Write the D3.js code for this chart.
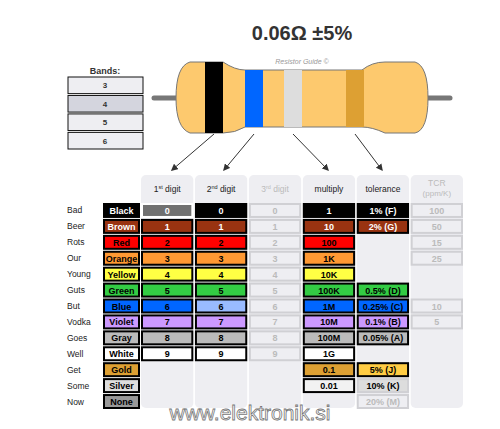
<!DOCTYPE html>
<html><head><meta charset="utf-8">
<script src="https://cdn.jsdelivr.net/npm/d3@7"></script>
<style>
body { margin: 0; background: #fff; }
text { font-family: "Liberation Sans", Arial, sans-serif; }
</style></head>
<body><svg id="chart" width="500" height="429"></svg>
<script>
// values
let names      = ['Black','Brown','Red','Orange','Yellow','Green','Blue','Violet','Gray','White','Gold','Silver','None'];
let mnemonics  = ['Bad','Beer','Rots','Our','Young','Guts','But','Vodka','Goes','Well','Get','Some','Now'];
let fills      = ['#000000','#993311','#ff0000','#ff9933','#ffff44','#33cc44','#0066ff','#cc99ff','#bbbbbb','#ffffff','#dda033','#dddddd','#999999'];
let digits     = ['0','1','2','3','4','5','6','7','8','9'];
let multipliers= ['1','10','100','1K','10K','100K','1M','10M','100M','1G','0.1','0.01'];
let tolerances = ['1% (F)','2% (G)','','','','0.5% (D)','0.25% (C)','0.1% (B)','0.05% (A)','','5% (J)','10% (K)','20% (M)'];
let tcrs       = ['100','50','15','25','','','10','5'];
let bandCounts = ['3','4','5','6'];
let columns    = ['1st','2nd','3rd','multiply','tolerance','TCR'];
let picked     = { '1st': 0, '2nd': 6, multiply: 11, tolerance: 10 };
let bandColors = ['#000000','#0066ff','#dddddd','#dda033'];

let svg = d3.select('#chart');
let lightText = (i) => i < 2;

let x = d3.scaleBand().domain(columns).range([141, 463]).paddingInner(0.03);
let nameX = 103, nameW = 37;
let y = d3.scaleBand().domain(d3.range(names.length)).range([203, 409]).paddingInner(0.06);

// title and resistor
svg.append('text').attr('x', 302).attr('y', 40).attr('text-anchor', 'middle')
    .attr('font-size', 20).attr('font-weight', 'bold').attr('fill', '#333').text('0.06Ω ±5%');
svg.append('text').attr('x', 302).attr('y', 64).attr('text-anchor', 'middle')
    .attr('font-size', 7).attr('font-style', 'italic').attr('fill', '#999').text('Resistor Guide ©');

svg.append('line').attr('x1', 154).attr('x2', 450).attr('y1', 98).attr('y2', 98)
    .attr('stroke', '#777').attr('stroke-width', 5).attr('stroke-linecap', 'round');
let body = 'M190,62 L223,62 Q235,70 245,70 L362,70 Q372,62 385,62 L415,62 Q428,66 428,98 Q428,130 415,133 L385,133 Q372,127 362,127 L245,127 Q235,133 223,133 L190,133 Q176,128 176,98 Q176,66 190,62 Z';
svg.append('path').attr('d', body).attr('fill', '#fdc96e').attr('stroke', '#777').attr('stroke-width', 1);

let bxs = [205, 245, 284, 346];
svg.selectAll('rect.band').data(bandColors).enter().append('rect').attr('class', 'band')
    .attr('x', (d, i) => bxs[i]).attr('width', 18)
    .attr('y', (d, i) => i === 0 ? 62 : 70).attr('height', (d, i) => i === 0 ? 71 : 57)
    .attr('fill', (d) => d);

// bands selector
svg.append('text').attr('x', 105).attr('y', 74).attr('text-anchor', 'middle')
    .attr('font-size', 9).attr('font-weight', 'bold').attr('fill', '#333').text('Bands:');
let by = d3.scaleBand().domain(bandCounts).range([77, 149]).paddingInner(0.1);
svg.selectAll('g.bandbtn').data(bandCounts).enter().append('g').attr('class', 'bandbtn')
    .each(function (d, i) {
        let g = d3.select(this);
        g.append('rect').attr('x', 68).attr('y', by(d)).attr('width', 75).attr('height', by.bandwidth())
            .attr('fill', i === 1 ? '#d4d5de' : '#eeeef2').attr('stroke', '#111').attr('stroke-width', 1);
        g.append('text').attr('x', 105).attr('y', by(d) + by.bandwidth() / 2 + 3).attr('text-anchor', 'middle')
            .attr('font-size', 8).attr('font-weight', 'bold').attr('fill', '#333').text(d);
    });

// arrows
svg.append('defs').append('marker').attr('id', 'ah').attr('viewBox', '0 0 10 10')
    .attr('refX', 8).attr('refY', 5).attr('markerWidth', 7).attr('markerHeight', 7).attr('orient', 'auto')
    .append('path').attr('d', 'M0,0 L10,5 L0,10 Z').attr('fill', '#333');
let arrowEnds = [172, 224, 328, 382];
svg.selectAll('line.arrow').data(arrowEnds).enter().append('line').attr('class', 'arrow')
    .attr('x1', (d, i) => bxs[i] + 9).attr('y1', 134)
    .attr('x2', (d) => d).attr('y2', 170)
    .attr('stroke', '#333').attr('stroke-width', 1).attr('marker-end', 'url(#ah)');

// column panels
let headers = { '1st': ['1', 'st', ' digit'], '2nd': ['2', 'nd', ' digit'], '3rd': ['3', 'rd', ' digit'], multiply: ['multiply'], tolerance: ['tolerance'], TCR: ['TCR'] };
svg.selectAll('rect.panel').data(columns).enter().append('rect').attr('class', 'panel')
    .attr('x', (d) => x(d)).attr('y', 175).attr('width', x.bandwidth())
    .attr('height', 233).attr('rx', 5)
    .attr('fill', '#eeeef2');
columns.forEach((c) => {
    let t = svg.append('text').attr('x', x(c) + x.bandwidth() / 2).attr('y', c === 'TCR' ? 186 : 192)
        .attr('text-anchor', 'middle').attr('font-size', 8.5)
        .attr('fill', (c === '3rd' || c === 'TCR') ? '#bbb' : '#222');
    let h = headers[c];
    if (h.length === 3) {
        t.append('tspan').text(h[0]);
        t.append('tspan').attr('font-size', 5.5).attr('dy', -3).text(h[1]);
        t.append('tspan').attr('dy', 3).text(h[2]);
    } else t.text(h[0]);
    if (c === 'TCR') svg.append('text').attr('x', x(c) + x.bandwidth() / 2).attr('y', 196)
        .attr('text-anchor', 'middle').attr('font-size', 8).attr('fill', '#bbb').text('(ppm/K)');
});

// mnemonics
svg.selectAll('text.mn').data(mnemonics).enter().append('text').attr('class', 'mn')
    .attr('x', 67).attr('y', (d, i) => y(i) + y.bandwidth() / 2 + 3)
    .attr('font-size', 8.5).attr('fill', '#222').text((d) => d);

function cell(cx, cw, i, label, opt) {
    let g = svg.append('g');
    g.append('rect').attr('x', cx + 1).attr('y', y(i) + 1)
        .attr('width', cw - 2).attr('height', y.bandwidth() - 2)
        .attr('fill', opt.fill).attr('stroke', opt.stroke || '#000').attr('stroke-width', 2);
    g.append('text').attr('x', cx + cw / 2).attr('y', y(i) + y.bandwidth() / 2 + 3.5)
        .attr('text-anchor', 'middle').attr('font-size', 9).attr('font-weight', 'bold')
        .attr('fill', opt.color || '#000').text(label);
}
let col = (c, i, label, opt) => cell(x(c), x.bandwidth(), i, label, opt);

names.forEach((n, i) => cell(nameX, nameW, i, n, { fill: fills[i], color: lightText(i) ? '#fff' : '#000' }));
digits.forEach((d, i) => {
    ['1st', '2nd'].forEach((c) => {
        let sel = picked[c] === i;
        let f = sel ? (i === 0 ? '#707070' : '#99bbff') : fills[i];
        col(c, i, d, { fill: f, color: lightText(i) ? '#fff' : '#000', stroke: (sel && i === 0) ? '#fff' : '#000' });
    });
    col('3rd', i, d, { fill: '#eeeef2', stroke: '#d0d0d4', color: '#bbb' });
});
multipliers.forEach((m, i) => {
    let sel = picked.multiply === i;
    col('multiply', i, m, { fill: sel ? '#f2f2f2' : fills[i], color: lightText(i) ? '#fff' : '#000' });
});
tolerances.forEach((t, i) => {
    if (!t) return;
    let sel = picked.tolerance === i;
    if (i === 12) return col('tolerance', i, t, { fill: '#eeeef2', stroke: '#d0d0d4', color: '#bbb' });
    col('tolerance', i, t, { fill: sel ? '#ffcc44' : fills[i], color: lightText(i) ? '#fff' : '#000', stroke: i === 11 ? '#d0d0d4' : '#000' });
});
tcrs.forEach((t, i) => {
    if (!t) return;
    col('TCR', i, t, { fill: '#eeeef2', stroke: '#d0d0d4', color: '#bbb' });
});

// watermark
svg.append('text').attr('x', 250).attr('y', 420).attr('text-anchor', 'middle')
    .attr('font-size', 21).attr('fill', '#fff').attr('stroke', '#777').attr('stroke-width', 0.8)
    .attr('font-family', 'DejaVu Sans').text('www.elektronik.si');
</script>
</body></html>
